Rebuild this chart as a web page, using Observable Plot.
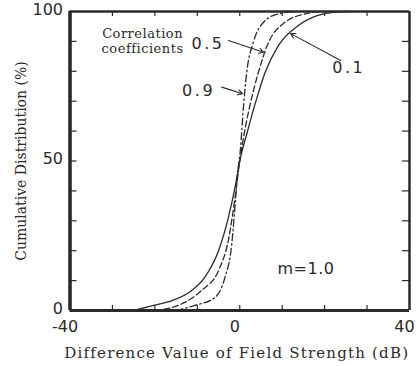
<!DOCTYPE html>
<html>
<head>
<meta charset="utf-8">
<script src="https://cdn.jsdelivr.net/npm/d3@7"></script>
<script src="https://cdn.jsdelivr.net/npm/@observablehq/plot@0.6"></script>
<style>
  html, body { margin: 0; padding: 0; background: #fff; }
</style>
</head>
<body>
<div id="chart"></div>
<script>
// Series: cumulative distribution (%) vs difference value (dB)
const x01 = [-25, -21, -16, -11.3, -8.3, -5, -2.7, -1, 0, 1.65, 3.6, 6, 9.1, 13.8, 18.4, 22.4, 26];
const y01 = [0, 1.5, 3.3, 6.7, 11, 20, 31, 42, 50, 59, 69, 79.7, 88.6, 95.3, 98.7, 99.8, 100];
const x05 = [-20, -14.5, -9, -5, -2.7, -1.2, 0, 0.9, 2.4, 4.4, 6.8, 10.7, 15.4, 19.3];
const y05 = [0, 1.7, 6.7, 13.4, 23.4, 36.8, 50, 58, 68.6, 79.7, 89.7, 96.4, 99.2, 100];
const x09 = [-15, -10.6, -5.9, -3.5, -1.9, -1.2, -0.5, 0.1, 0.9, 1.65, 3.2, 5.6, 9.1, 13.8];
const y09 = [0, 1.7, 4.3, 11, 22, 33.4, 46, 53, 68.6, 79.7, 89.7, 96.4, 99.2, 100];

const xTickLabels = [-40, 0, 40];
const yTickLabels = [0, 50, 100];
const xMinorTicks = [-30, -20, -10, 0, 10, 20, 30];
const yMinorTicks = [10, 20, 30, 40, 50, 60, 70, 80, 90];

// Annotations (data units)
const labelText = ["0.5", "0.9", "0.1"];
const labelX = [-7.5, -9.7, 25.7];
const labelY = [89.3, 73.6, 81];
const arrowX1 = [-2.67, -4.25, 23.8];
const arrowY1 = [90.3, 74.7, 83.6];
const arrowX2 = [5.6, 0.64, 12.0];
const arrowY2 = [86.4, 72.5, 92.6];
const noteText = ["Correlation\ncoefficients"];
const noteX = [-22.9];
const noteY = [90.1];
const mText = ["m=1.0"];
const mX = [15.6];
const mY = [14];

const toPts = (xs, ys) => xs.map((x, i) => ({x, y: ys[i]}));
const s01 = toPts(x01, y01), s05 = toPts(x05, y05), s09 = toPts(x09, y09);
const labels = labelText.map((t, i) => ({t, x: labelX[i], y: labelY[i]}));
const arrows = arrowX1.map((x1, i) => ({x1, y1: arrowY1[i], x2: arrowX2[i], y2: arrowY2[i]}));

const ink = "#2a2a2a";
const sans = "DejaVu Sans";
const serif = "DejaVu Serif";

const chart = Plot.plot({
  width: 418,
  height: 366,
  marginLeft: 69.5,
  marginRight: 9,
  marginTop: 11,
  marginBottom: 56,
  x: {domain: [-40, 40]},
  y: {domain: [0, 100]},
  marks: [
    // inward ticks
    Plot.ruleX(xMinorTicks, {y1: 0, y2: 1.67, stroke: ink, strokeWidth: 1.2}),
    Plot.ruleX(xMinorTicks, {y1: 100, y2: 98.33, stroke: ink, strokeWidth: 1.2}),
    Plot.ruleY(yMinorTicks, {x1: -40, x2: -38.35, stroke: ink, strokeWidth: 1.2}),
    Plot.ruleY(yMinorTicks, {x1: 40, x2: 38.35, stroke: ink, strokeWidth: 1.2}),
    // curves
    Plot.line(s01, {x: "x", y: "y", stroke: ink, strokeWidth: 1.3, curve: "monotone-x"}),
    Plot.line(s05, {x: "x", y: "y", stroke: ink, strokeWidth: 1.3, strokeDasharray: "6,3", curve: "monotone-x"}),
    Plot.line(s09, {x: "x", y: "y", stroke: ink, strokeWidth: 1.3, strokeDasharray: "7,3,1.5,3", curve: "monotone-x"}),
    // frame
    Plot.ruleY([100], {stroke: ink, strokeWidth: 2.5}),
    Plot.ruleX([40], {stroke: ink, strokeWidth: 2.5}),
    Plot.ruleY([0], {stroke: ink, strokeWidth: 3}),
    Plot.ruleX([-40], {stroke: ink, strokeWidth: 3.6}),
    // tick labels
    Plot.axisX(xTickLabels, {tickSize: 0, tickPadding: 10, dx: -5, fontSize: 16, fontFamily: sans, fill: ink, label: null, tickFormat: d => String(d)}),
    Plot.axisY(yTickLabels, {tickSize: 0, tickPadding: 7, dy: -2, fontSize: 16, fontFamily: sans, fill: ink, label: null, tickFormat: d => String(d)}),
    // axis titles
    Plot.text(["Difference Value of Field Strength (dB)"], {frameAnchor: "bottom", dy: 43, dx: -3, textAnchor: "middle", fontSize: 15, fontFamily: serif, fill: ink, lineAnchor: "middle"}),
    Plot.text(["Cumulative Distribution (%)"], {frameAnchor: "left", dx: -48, textAnchor: "middle", rotate: -90, fontSize: 14, fontFamily: serif, fill: ink, lineAnchor: "middle"}),
    // annotations
    Plot.arrow(arrows, {x1: "x1", y1: "y1", x2: "x2", y2: "y2", stroke: ink, strokeWidth: 1.1, headLength: 7}),
    Plot.text(labels, {x: "x", y: "y", text: "t", fontSize: 16, fontFamily: sans, fill: ink}),
    Plot.text(noteText, {x: noteX, y: noteY, fontSize: 13, fontFamily: serif, fill: ink, lineHeight: 1.15}),
    Plot.text(mText, {x: mX, y: mY, fontSize: 16, fontFamily: sans, fill: ink})
  ]
});

// letter spacing tweaks applied after render
const spacing = (pred, px) => d3.select(chart).selectAll("text")
  .filter(function () { return pred(this.textContent); })
  .attr("letter-spacing", px + "px")
  .style("letter-spacing", px + "px");
spacing(t => t.startsWith("Difference"), 1.2);
spacing(t => labelText.includes(t), 2.5);
spacing(t => t.startsWith("Correlation"), 0.5);
spacing(t => t === "m=1.0", 0.5);

document.getElementById("chart").appendChild(chart);
</script>
</body>
</html>
